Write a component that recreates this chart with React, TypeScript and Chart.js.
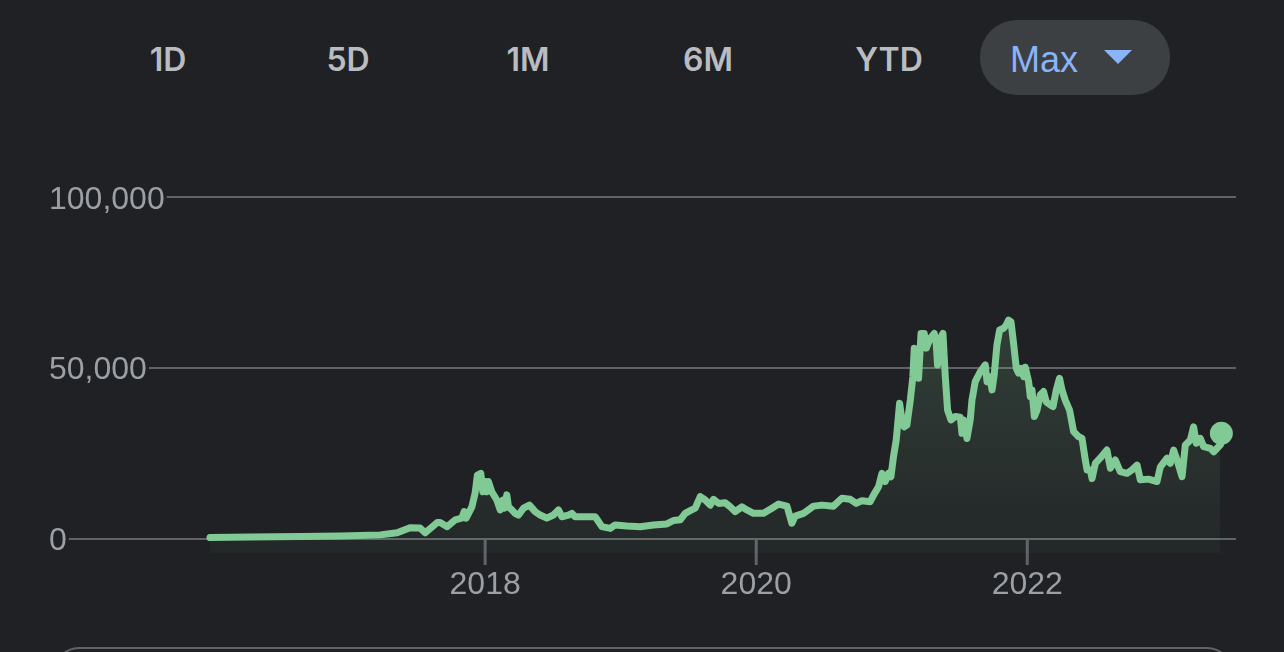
import React, { useEffect, useRef } from "react";
import { Chart, registerables } from "chart.js";

Chart.register(...registerables);

const years: number[] = [
  2015.97, 2016.266, 2016.635, 2016.93, 2017.225, 2017.351, 2017.446, 2017.52, 2017.557, 2017.646,
  2017.668, 2017.72, 2017.779, 2017.828, 2017.845, 2017.86, 2017.902, 2017.926, 2017.943, 2017.968,
  2017.983, 2018.0, 2018.013, 2018.024, 2018.049, 2018.086, 2018.111, 2018.131, 2018.142, 2018.16,
  2018.172, 2018.197, 2018.221, 2018.246, 2018.283, 2018.327, 2018.369, 2018.406, 2018.455, 2018.504,
  2018.541, 2018.566, 2018.615, 2018.64, 2018.664, 2018.725, 2018.812, 2018.836, 2018.861, 2018.923,
  2018.959, 2019.046, 2019.144, 2019.242, 2019.341, 2019.39, 2019.439, 2019.476, 2019.513, 2019.55,
  2019.587, 2019.624, 2019.661, 2019.685, 2019.722, 2019.771, 2019.808, 2019.845, 2019.894, 2019.931,
  2019.98, 2020.054, 2020.116, 2020.165, 2020.227, 2020.263, 2020.288, 2020.349, 2020.423, 2020.485,
  2020.57, 2020.632, 2020.694, 2020.738, 2020.78, 2020.841, 2020.867, 2020.903, 2020.928, 2020.952,
  2020.976, 2020.994, 2021.013, 2021.033, 2021.058, 2021.075, 2021.092, 2021.112, 2021.137, 2021.156,
  2021.166, 2021.186, 2021.198, 2021.216, 2021.24, 2021.255, 2021.284, 2021.314, 2021.328, 2021.338,
  2021.353, 2021.378, 2021.395, 2021.412, 2021.437, 2021.469, 2021.506, 2021.518, 2021.53, 2021.555,
  2021.579, 2021.592, 2021.616, 2021.653, 2021.69, 2021.703, 2021.722, 2021.74, 2021.756, 2021.776,
  2021.796, 2021.825, 2021.845, 2021.862, 2021.88, 2021.899, 2021.919, 2021.936, 2021.954, 2021.973,
  2021.985, 2022.01, 2022.022, 2022.035, 2022.052, 2022.072, 2022.096, 2022.12, 2022.14, 2022.17,
  2022.19, 2022.214, 2022.238, 2022.256, 2022.28, 2022.312, 2022.342, 2022.379, 2022.404, 2022.428,
  2022.441, 2022.465, 2022.478, 2022.502, 2022.539, 2022.588, 2022.613, 2022.649, 2022.686, 2022.736,
  2022.773, 2022.81, 2022.834, 2022.895, 2022.957, 2022.982, 2023.031, 2023.055, 2023.08, 2023.105,
  2023.142, 2023.166, 2023.203, 2023.227, 2023.247, 2023.277, 2023.301, 2023.351, 2023.376, 2023.424,
];

// Price values (USD) matching `years`
const prices: number[] = [
  400, 600, 700, 900, 1200, 1800, 3300, 3200, 1800, 4800,
  4800, 3600, 5600, 6100, 8000, 6100, 9400, 13400, 18700, 19200,
  13800, 16800, 13800, 16800, 13800, 11400, 8500, 11400, 9000, 12900,
  9400, 8500, 7500, 7000, 9000, 9900, 8000, 7000, 6100, 7000,
  8500, 6500, 7000, 7500, 6500, 6500, 6500, 5100, 3600, 3100,
  4100, 3800, 3600, 4100, 4400, 5400, 5600, 7500, 8300, 9000,
  12400, 11400, 9900, 11600, 10400, 10600, 9400, 8000, 9400, 8500,
  7500, 7500, 9000, 10200, 9600, 4600, 6700, 7500, 9600, 9900,
  9600, 11900, 11600, 10400, 11200, 10900, 12900, 15300, 19200, 16800,
  19200, 18200, 24100, 28900, 39700, 34800, 32800, 33300, 40600, 47500,
  55800, 55300, 47000, 60100, 60100, 55800, 58700, 60100, 57200, 50900,
  58200, 60100, 47500, 37700, 34800, 35800, 35600, 30900, 34800, 29400,
  34800, 40600, 46000, 48900, 50900, 46000, 47500, 43600, 48000, 56700,
  61100, 61600, 62600, 64000, 63500, 57200, 49900, 48500, 49900, 47500,
  50200, 46000, 41600, 43600, 35800, 37700, 42100, 43100, 40100, 39200,
  38700, 43600, 47000, 43600, 40600, 37700, 31400, 29900, 29400, 23100,
  20200, 20200, 17700, 22100, 23700, 26000, 20700, 23100, 19700, 19200,
  20200, 21600, 17300, 17500, 16800, 21100, 23600, 22100, 26000, 23100,
  18200, 27500, 28900, 32800, 28000, 29400, 27000, 26500, 25500, 27500,
];

const currentYear: number[] = [2023.432];
const currentPrice: number[] = [30900];

const yTickValues: number[] = [0, 50000, 100000];
const yTickLabels: string[] = ["0", "50,000", "100,000"];
const xTickValues: number[] = [2018, 2020, 2022];
const xTickLabels: string[] = ["2018", "2020", "2022"];

const rangeButtons: string[] = ["1D", "5D", "1M", "6M", "YTD"];
const activeRange = "Max";

const BG = "#202124";
const GREEN = "#81c995";
const GRID = "#5f6368";
const LABEL = "#9aa0a6";
const FONT = "'Liberation Sans', Arial, Helvetica, sans-serif";

const axisPlugin = {
  id: "customAxes",
  beforeDatasetsDraw(chart: any) {
    const { ctx, chartArea } = chart;
    const ys = chart.scales.y;
    const xs = chart.scales.x;
    ctx.save();
    ctx.font = `32px ${FONT}`;
    ctx.fillStyle = LABEL;
    ctx.textAlign = "left";
    ctx.textBaseline = "alphabetic";
    yTickValues.forEach((v, i) => {
      const py = ys.getPixelForValue(v);
      const label = yTickLabels[i];
      const w = ctx.measureText(label).width;
      ctx.fillText(label, 49, py + 11.5);
      ctx.strokeStyle = GRID;
      ctx.lineWidth = 2;
      ctx.beginPath();
      ctx.moveTo(49 + w + 2, py);
      ctx.lineTo(chartArea.right, py);
      ctx.stroke();
    });
    const zeroY = ys.getPixelForValue(0);
    ctx.textAlign = "center";
    xTickValues.forEach((v, i) => {
      const px = xs.getPixelForValue(v);
      ctx.strokeStyle = GRID;
      ctx.lineWidth = 3;
      ctx.beginPath();
      ctx.moveTo(px, zeroY);
      ctx.lineTo(px, zeroY + 26);
      ctx.stroke();
      ctx.fillText(xTickLabels[i], px, zeroY + 55);
    });
    ctx.restore();
  },
};

export default function App() {
  const canvasRef = useRef<HTMLCanvasElement | null>(null);

  useEffect(() => {
    const canvas = canvasRef.current;
    if (!canvas) return;
    const linePoints = years.map((x, i) => ({ x, y: prices[i] }));
    const dotPoints = currentYear.map((x, i) => ({ x, y: currentPrice[i] }));

    const chart = new Chart(canvas, {
      type: "line",
      data: {
        datasets: [
          {
            data: dotPoints,
            showLine: false,
            pointRadius: 11.5,
            pointHoverRadius: 11.5,
            pointBackgroundColor: GREEN,
            pointBorderWidth: 0,
            clip: false,
          } as any,
          {
            data: linePoints,
            borderColor: GREEN,
            borderWidth: 7,
            borderJoinStyle: "round",
            borderCapStyle: "round",
            pointRadius: 0,
            tension: 0,
            fill: "start",
            backgroundColor: (c: any) => {
              const area = c.chart.chartArea;
              if (!area) return "rgba(129,201,149,0.08)";
              const g = c.chart.ctx.createLinearGradient(0, 320, 0, area.bottom);
              g.addColorStop(0, "rgba(129,201,149,0.18)");
              g.addColorStop(1, "rgba(129,201,149,0.04)");
              return g;
            },
            clip: false,
          } as any,
        ],
      },
      options: {
        animation: false,
        responsive: true,
        maintainAspectRatio: false,
        events: [],
        layout: { padding: { left: 210, right: 48, top: 197, bottom: 99 } },
        plugins: { legend: { display: false }, tooltip: { enabled: false } },
        scales: {
          x: { type: "linear", min: 2015.97, max: 2023.54, display: false },
          y: { type: "linear", min: -4100, max: 100000, display: false },
        },
      },
      plugins: [axisPlugin],
    });
    return () => chart.destroy();
  }, []);

  const btnCenters = [168, 348, 528, 708, 889];

  return (
    <div style={{ position: "fixed", inset: 0, background: BG, overflow: "hidden", fontFamily: FONT }}>
      {rangeButtons.map((b, i) => (
        <span
          key={b}
          style={{
            position: "absolute",
            left: btnCenters[i],
            top: 60,
            transform: "translate(-50%, -50%)",
            fontFamily: "Inter, 'Liberation Sans', sans-serif",
            fontSize: 32,
            lineHeight: 1,
            fontWeight: 600,
            color: "#b9bcc1",
            whiteSpace: "nowrap",
          }}
        >
          {b}
        </span>
      ))}
      <div
        style={{
          position: "absolute",
          left: 980,
          top: 20,
          width: 190,
          height: 75,
          borderRadius: 37,
          background: "#3c4043",
        }}
      >
        <span
          style={{
            position: "absolute",
            left: 30,
            top: 40,
            transform: "translateY(-50%)",
            fontSize: 36,
            lineHeight: 1,
            color: "#8ab4f8",
          }}
        >
          {activeRange}
        </span>
        <div
          style={{
            position: "absolute",
            left: 124,
            top: 30,
            width: 0,
            height: 0,
            borderLeft: "14px solid transparent",
            borderRight: "14px solid transparent",
            borderTop: "14px solid #8ab4f8",
          }}
        />
      </div>
      <div style={{ position: "absolute", left: 0, top: 0, width: 1284, height: 652 }}>
        <canvas ref={canvasRef} />
      </div>
      <div
        style={{
          position: "absolute",
          left: 53,
          top: 647,
          width: 1180,
          height: 120,
          border: "2px solid #5f6368",
          borderRadius: 26,
          boxSizing: "border-box",
        }}
      />
    </div>
  );
}
